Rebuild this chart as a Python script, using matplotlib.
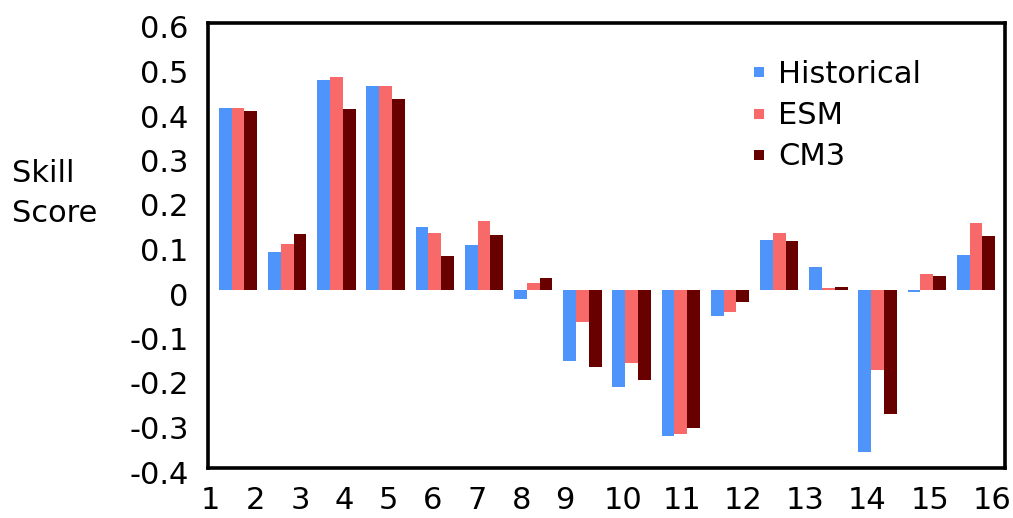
import matplotlib
matplotlib.use("Agg")
import matplotlib.pyplot as plt
import matplotlib.transforms as mtransforms
from matplotlib.lines import Line2D
import numpy as np

plt.rcParams['font.family'] = ['DejaVu Sans']

# ---- data ----
groups = list(range(1, 17))
historical = [0.408, 0.086, 0.473, 0.459, 0.142, 0.101, -0.020, -0.159,
              -0.217, -0.329, -0.058, 0.112, 0.051, -0.363, -0.005, 0.079]
esm = [0.410, 0.103, 0.478, 0.459, 0.129, 0.154, 0.015, -0.071,
       -0.165, -0.324, -0.050, 0.128, 0.004, -0.180, 0.036, 0.150]
cm3 = [0.403, 0.126, 0.407, 0.429, 0.077, 0.124, 0.028, -0.174,
       -0.202, -0.311, -0.026, 0.109, 0.006, -0.279, 0.032, 0.122]
series_names = ['Historical', 'ESM', 'CM3']
ytick_vals = [0.6, 0.5, 0.4, 0.3, 0.2, 0.1, 0, -0.1, -0.2, -0.3, -0.4]
ytick_labels = ['0.6', '0.5', '0.4', '0.3', '0.2', '0.1', '0', '-0.1', '-0.2', '-0.3', '-0.4']
xtick_labels = [str(g) for g in groups]

# ---- style / layout ----
FS = 22
colors = ['#4f94fa', '#f86a6a', '#680000']
W, H = 1013, 518
fig = plt.figure(figsize=(W / 100, H / 100), dpi=100)
ax_l, ax_r, ax_t, ax_b = 208, 1005, 23, 468
ax = fig.add_axes([ax_l / W, 1 - ax_b / H, (ax_r - ax_l) / W, (ax_b - ax_t) / H])

x = np.arange(len(groups))
bw = 0.26
for k, (vals, name) in enumerate(zip([historical, esm, cm3], series_names)):
    ax.bar(x + (k - 1) * bw, vals, width=bw, color=colors[k], label=name, linewidth=0)

ax.set_ylim(-0.4, 0.6)
ax.set_xlim(-0.61, 15.59)

for s in ax.spines.values():
    s.set_linewidth(2.6)
    s.set_color('black')

ax.set_yticks(ytick_vals)
ax.set_yticklabels(ytick_labels, fontsize=FS)
ax.tick_params(axis='y', length=0, pad=14)
offset = mtransforms.ScaledTranslation(0, -4 / 100, fig.dpi_scale_trans)
for lab in ax.get_yticklabels():
    lab.set_transform(lab.get_transform() + offset)

# x tick labels (positioned near the left edge of each group as in the original)
label_px = [210, 255, 300, 344, 388, 433, 477, 522, 565, 623, 682, 743, 805, 867, 930, 992]
spacing = 49.2
label_pos = [(p - 238) / spacing for p in label_px]
ax.set_xticks(label_pos)
ax.set_xticklabels(xtick_labels, fontsize=FS)
ax.tick_params(axis='x', length=0, pad=13)

fig.text(12 / W, 1 - 173 / H, 'Skill', fontsize=FS, ha='left', va='center')
fig.text(12 / W, 1 - 213 / H, 'Score', fontsize=FS, ha='left', va='center')

handles = [Line2D([], [], marker='s', linestyle='none', markersize=7.5,
                  markerfacecolor=c, markeredgewidth=0) for c in colors]
fig.legend(handles, series_names, loc='upper left',
           bbox_to_anchor=(752 / W, 1 - 60 / H), frameon=False, fontsize=FS,
           handlelength=0.45, handletextpad=0.4, labelspacing=0.40,
           borderpad=0, borderaxespad=0)

fig.savefig('out.png', dpi=100)
